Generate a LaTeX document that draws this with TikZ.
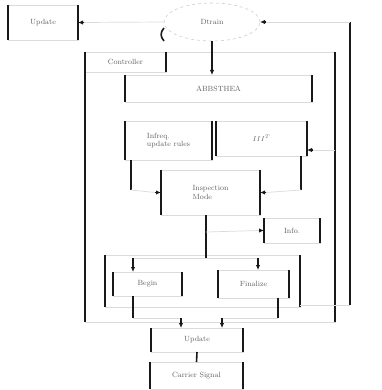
\documentclass[tikz,border=0pt]{standalone}
\usetikzlibrary{arrows.meta,shapes.geometric}
\begin{document}
\begin{tikzpicture}[x=1pt,y=-1pt,
  vline/.style={draw=black!90,line width=1.6pt},
  hline/.style={draw=black!14,line width=0.7pt},
  tip/.style={-{Latex[length=5pt,width=4.5pt]},draw=black!90,line width=1.1pt},
  lbl/.style={text=black!62,font=\fontsize{7.5}{8.5}\selectfont,align=left},
  bx/.style={hline,rectangle,inner sep=1pt,outer sep=0pt,lbl},
]
\useasboundingbox (0,0) rectangle (381,390);

% outer controller frame and its label tab
\node[bx,minimum width=250,minimum height=270] (ctl) at (210,187) {};
\node[bx,minimum width=81,minimum height=20,anchor=north west] (tab) at (85,52) {Controller};

% top row
\node[bx,minimum width=70,minimum height=35] (upd) at (43,22.5) {Update};
\node[ellipse,draw=black!20,dashed,line width=0.6pt,outer sep=0pt,minimum width=96,minimum height=38,lbl] (dtr) at (212,22) {Dtrain};
\draw[vline] ([yshift=-6]dtr.west) arc[start angle=200,end angle=160,x radius=48,y radius=19];

% inner blocks
\node[bx,minimum width=187,minimum height=27] (abb) at (218.5,88.5) {ABBSTHEA};
\node[bx,minimum width=87,minimum height=39] (inf) at (168.5,140.5) {Infreq.\\update rules};
\node[bx,minimum width=91,minimum height=35] (iit) at (261.5,138.5) {$III^T$};
\node[bx,minimum width=99,minimum height=45] (ins) at (210.5,192.5) {Inspection\\Mode};
\node[bx,minimum width=56,minimum height=25] (info) at (292,230.5) {Info.};

% lower group
\node[bx,minimum width=195,minimum height=52] (grp) at (202.5,281) {};
\node[bx,minimum width=69,minimum height=24] (beg) at (147.5,284) {Begin};
\node[bx,minimum width=71,minimum height=28] (fin) at (253.5,284) {Finalize};
\node[bx,minimum width=92,minimum height=24] (upd2) at (197,340) {Update};
\node[bx,minimum width=93,minimum height=27] (car) at (196.5,375.5) {Carrier Signal};

% heavy side edges of every block
\foreach \n in {ctl,tab,upd,abb,inf,iit,ins,info,grp,beg,fin,upd2,car}
  \draw[vline] (\n.north west) -- (\n.south west)
               (\n.north east) -- (\n.south east);

% routing points
\coordinate (r1) at (350,305);
\coordinate (r2) at (350,22);
\coordinate (a1) at (131,160);
\coordinate (a2) at (131,190);
\coordinate (b1) at (301,156);
\coordinate (b2) at (301,190);
\coordinate (c1) at (335,150);
\coordinate (m1) at (206,215);
\coordinate (m2) at (206,258);
\coordinate (m3) at (206,232);
\coordinate (l1) at (133,258);
\coordinate (l2) at (258,258);
\coordinate (p1) at (133,296);
\coordinate (p2) at (133,318);
\coordinate (p3) at (181,318);
\coordinate (q1) at (278,298);
\coordinate (q2) at (278,318);
\coordinate (q3) at (222,318);

% connectors: vertical runs dark, horizontal runs light
\draw[tip] (dtr.south) -- (abb.north -| dtr.south);
\draw[hline] (dtr.west) -- ([xshift=6]upd.east);
\draw[tip] ([xshift=6]upd.east) -- (upd.east);

\draw[hline] (grp.east |- r1) -- (r1);
\draw[vline] (r1) -- (r2);
\draw[hline] (r2) -- ([xshift=6]dtr.east);
\draw[tip] ([xshift=6]dtr.east) -- (dtr.east);

\draw[vline] (a1) -- (a2);
\draw[hline] (a2) -- ([xshift=-6]ins.west);
\draw[tip] ([xshift=-6]ins.west) -- (ins.west);

\draw[vline] (b1) -- (b2);
\draw[hline] (b2) -- ([xshift=6]ins.east);
\draw[tip] ([xshift=6]ins.east) -- (ins.east);

\draw[hline] (c1) -- ([xshift=6]iit.east |- c1);
\draw[tip] ([xshift=6]iit.east |- c1) -- (iit.east |- c1);

\draw[vline] (m1) -- (m2);
\draw[hline] (m3) -- ([xshift=-5]info.west);
\draw[tip] ([xshift=-5]info.west) -- (info.west);

\draw[hline] (l1) -- (l2);
\draw[tip] (l1) -- (beg.north -| l1);
\draw[tip] (l2) -- (fin.north -| l2);

\draw[vline] (p1) -- (p2);
\draw[hline] (p2) -- (p3);
\draw[tip] (p3) -- (upd2.north -| p3);
\draw[vline] (q1) -- (q2);
\draw[hline] (q2) -- (q3);
\draw[tip] (q3) -- (upd2.north -| q3);

\draw[vline] (upd2.south) -- (car.north);
\end{tikzpicture}
\end{document}
